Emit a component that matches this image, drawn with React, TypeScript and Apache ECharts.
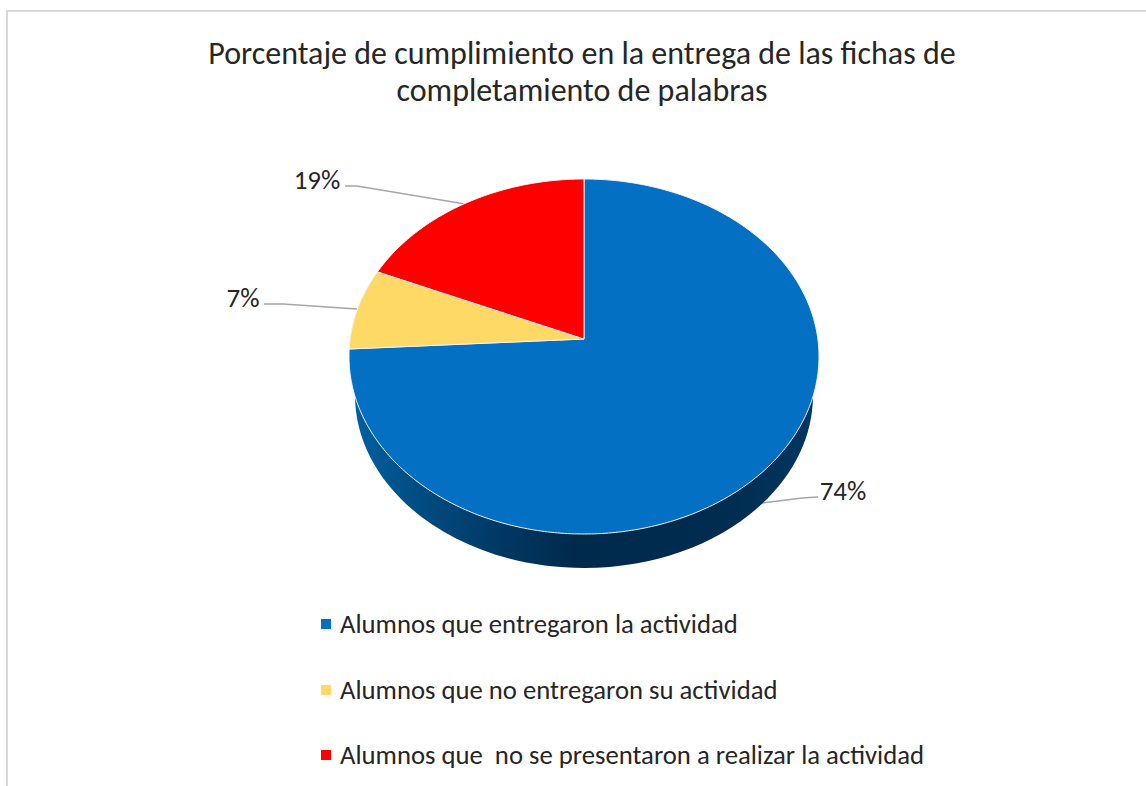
import React, { useEffect, useRef } from "react";
import * as echarts from "echarts";

const titleLines = [
  "Porcentaje de cumplimiento en la entrega de las fichas de",
  "completamiento de palabras",
];
const categories = [
  "Alumnos que entregaron la actividad",
  "Alumnos que no entregaron su actividad",
  "Alumnos que  no se presentaron a realizar la actividad",
];
const values = [74.1, 7.4, 18.5];
const colors = ["#0370C3", "#FFD966", "#FF0000"];

const FONT = "Carlito, Lato, 'Open Sans', 'Noto Sans', sans-serif";
const total = values.reduce((a, b) => a + b, 0);

// Pie geometry (top face ellipse, apex off-centre as in a perspective view)
const CX = 584;
const CY = 356.5;
const RX = 235;
const RY = 177.5;
const APEX_Y = 339;
const BASE_CY = 395;
const BASE_RX = 229;
const BASE_RY = 173;
const SKEW = (APEX_Y - CY) / RY;

// Maps a true pie angle (clockwise from 12 o'clock) onto the rim ellipse.
function rim(deg: number): [number, number] {
  const t = (deg * Math.PI) / 180;
  const x = Math.sin(t);
  const y = -Math.cos(t);
  const d = 1 + SKEW * y;
  const nx = (x * Math.sqrt(1 - SKEW * SKEW)) / d;
  const ny = (y + SKEW) / d;
  return [CX + RX * nx, CY + RY * ny];
}

function slicePoints(a0: number, a1: number): number[][] {
  const pts: number[][] = [[CX, APEX_Y]];
  const n = Math.max(2, Math.ceil((a1 - a0) / 0.75));
  for (let i = 0; i <= n; i++) pts.push(rim(a0 + ((a1 - a0) * i) / n));
  return pts;
}

function renderItem(params: any, api: any) {
  const i = params.dataIndex;
  const value = api.value(1);
  const before = values.slice(0, i).reduce((a, b) => a + b, 0);
  const a0 = (before / total) * 360;
  const a1 = a0 + (value / total) * 360;
  const children: any[] = [];
  if (i === 0) {
    children.push({
      type: "ellipse",
      shape: { cx: CX, cy: BASE_CY, rx: BASE_RX, ry: BASE_RY },
      style: {
        fill: new echarts.graphic.LinearGradient(0, 0, 1, 0, [
          { offset: 0, color: "#00609F" },
          { offset: 0.12, color: "#004F86" },
          { offset: 0.3, color: "#003A66" },
          { offset: 0.48, color: "#002A4C" },
          { offset: 0.8, color: "#002C50" },
          { offset: 1, color: "#003660" },
        ]),
      },
    });
  }
  children.push({
    type: "polygon",
    shape: { points: slicePoints(a0, a1) },
    style: { fill: colors[i], stroke: "#F2F2F2", lineWidth: 1, lineJoin: "round" },
  });
  return { type: "group", children };
}

const labelTexts = values.map((v) => `${Math.round(v)}%`);
const labelPos = [
  [843, 490],
  [243, 297],
  [317, 179],
];
const leaders = [
  [[755, 504], [802, 498], [818, 497]],
  [[357, 309], [283, 304], [264, 304]],
  [[465, 204], [357, 186], [345, 186]],
];

export default function App() {
  const ref = useRef<HTMLDivElement>(null);
  useEffect(() => {
    const chart = echarts.init(ref.current!, undefined, { renderer: "svg" });
    const legendYs = [624, 690, 755];
    chart.setOption({
      animation: false,
      backgroundColor: "#fff",
      series: [
        {
          type: "custom",
          coordinateSystem: "none",
          renderItem,
          data: values.map((v, i) => [i, v]),
          encode: { value: 1 },
          silent: true,
          z: 2,
        },
      ],
      graphic: [
        { type: "line", shape: { x1: 7, y1: 786, x2: 7, y2: 11 }, style: { stroke: "#D9D9D9", lineWidth: 2 } },
        { type: "line", shape: { x1: 6, y1: 11, x2: 1146, y2: 11 }, style: { stroke: "#D9D9D9", lineWidth: 2 } },
        ...titleLines.map((t, i) => ({
          type: "text",
          x: 582,
          y: 53 + i * 37,
          style: { text: t, font: `32px ${FONT}`, fill: "#262626", textAlign: "center", textVerticalAlign: "middle" },
        })),
        ...leaders.map((pts) => ({
          type: "polyline",
          z: 1,
          shape: { points: pts },
          style: { stroke: "#A6A6A6", lineWidth: 1.5, fill: "none" },
        })),
        ...labelTexts.map((t, i) => ({
          type: "text",
          x: labelPos[i][0],
          y: labelPos[i][1],
          style: { text: t, font: `27px ${FONT}`, fill: "#262626", textAlign: "center", textVerticalAlign: "middle" },
        })),
        ...categories.flatMap((c, i) => [
          { type: "rect", shape: { x: 321, y: legendYs[i] - 5, width: 10, height: 10 }, style: { fill: colors[i] } },
          {
            type: "text",
            x: 340,
            y: legendYs[i],
            style: { text: c, font: `26.7px ${FONT}`, fill: "#262626", textAlign: "left", textVerticalAlign: "middle" },
          },
        ]),
      ],
    });
    return () => chart.dispose();
  }, []);
  return <div ref={ref} style={{ position: "absolute", left: 0, top: 0, width: 1146, height: 786 }} />;
}
